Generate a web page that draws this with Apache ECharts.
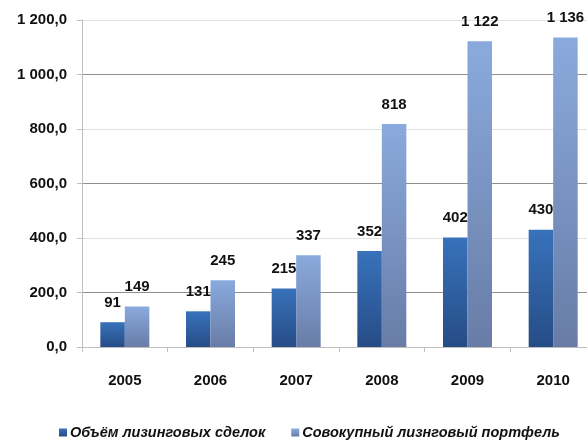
<!DOCTYPE html>
<html><head><meta charset="utf-8">
<script src="https://cdn.jsdelivr.net/npm/echarts@6/dist/echarts.min.js"></script>
<style>html,body{margin:0;padding:0;background:#fff;overflow:hidden}#c{width:600px;height:441px}</style>
</head><body><div id="c"></div>
<script>
const categories = ['2005','2006','2007','2008','2009','2010'];
const seriesNames = ['Объём лизинговых сделок','Совокупный лизнговый портфель'];
const dealVolume = [91,131,215,352,402,430];
const portfolio = [149,245,337,818,1122,1136];
const yTicks = [0,200,400,600,800,1000,1200];

function fmtNum(v){
  const s = String(Math.round(v));
  return s.length > 3 ? s.slice(0, s.length-3) + ' ' + s.slice(-3) : s;
}
const font = '"Liberation Sans", Arial, sans-serif';
const chart = echarts.init(document.getElementById('c'));
chart.setOption({
  animation:false,
  textStyle:{fontFamily:font},
  grid:{left:82,width:514,top:20,height:327,containLabel:false},
  legend:{
    top:420,left:54,itemWidth:8,itemHeight:8,itemGap:26,
    icon:'rect',
    textStyle:{fontFamily:font,fontSize:14.5,fontStyle:'italic',fontWeight:'bold',color:'#111',padding:[0,0,0,-2]},
    data:seriesNames
  },
  xAxis:{
    type:'category',data:categories,
    axisLine:{show:true,lineStyle:{color:'#bfbfbf',width:1}},
    axisTick:{show:true,length:5,lineStyle:{color:'#bfbfbf'}},
    axisLabel:{margin:26,fontSize:15,fontWeight:'bold',color:'#111',fontFamily:font}
  },
  yAxis:{
    type:'value',min:yTicks[0],max:yTicks[yTicks.length-1],interval:200,
    axisLine:{show:true,lineStyle:{color:'#bfbfbf'}},
    axisTick:{show:true,length:5,lineStyle:{color:'#bfbfbf'}},
    splitLine:{show:true,lineStyle:{color:['#e2e2e2','#909090'],width:1}},
    axisLabel:{margin:15,fontSize:15,fontWeight:'bold',color:'#111',fontFamily:font,
      formatter:v=>fmtNum(v)+',0'}
  },
  series:[
    {name:seriesNames[0],type:'bar',data:dealVolume,barWidth:24.5,barGap:'0%',
     itemStyle:{color:new echarts.graphic.LinearGradient(0,0,0,1,[{offset:0,color:'#3872bb'},{offset:1,color:'#264c86'}])},
     label:{show:true,position:'top',distance:12,fontSize:15,fontWeight:'bold',color:'#111',fontFamily:font,formatter:p=>fmtNum(p.value)}},
    {name:seriesNames[1],type:'bar',data:portfolio,barWidth:24.5,
     itemStyle:{color:new echarts.graphic.LinearGradient(0,0,0,1,[{offset:0,color:'#8aaadd'},{offset:1,color:'#687ca6'}])},
     label:{show:true,position:'top',distance:12,fontSize:15,fontWeight:'bold',color:'#111',fontFamily:font,formatter:p=>fmtNum(p.value)}}
  ]
});
</script></body></html>
